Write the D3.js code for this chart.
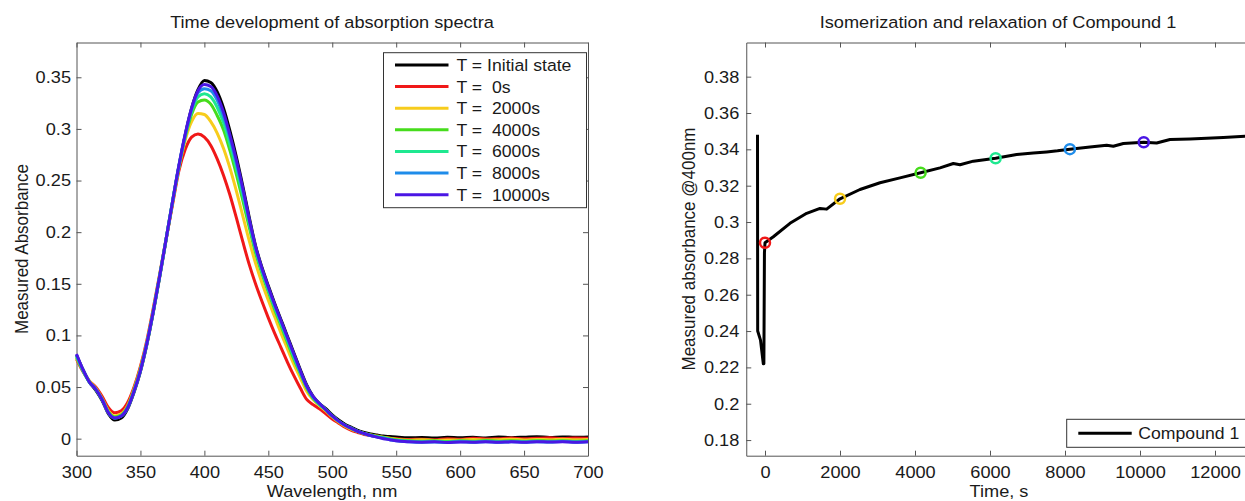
<!DOCTYPE html>
<html>
<head>
<meta charset="utf-8">
<script src="https://cdn.jsdelivr.net/npm/d3@7"></script>
<style>
  body { margin: 0; background: #fff; }
  svg { display: block; font-family: "Liberation Sans", Arial, sans-serif; }
  .tick text { fill: #1a1a1a; }
  .domain, .tick line { stroke: #555; }
</style>
</head>
<body>
<div id="chart"></div>
<script>
// ---------- data: left panel (spectra) ----------
const wavelengths = [300,305,310,315,320,325,330,335,340,345,350,355,360,365,370,375,380,385,390,395,
  400,405,410,415,420,425,430,435,440,445,450,455,460,465,470,475,480,485,490,495,
  500,505,510,515,520,525,530,535,540,545,550,
  560,570,580,590,600,610,620,630,640,650,660,670,680,690,700];

const absInitial = [.081,.067,.055,.047,.037,.024,.018,.020,.029,.045,
  .065,.091,.122,.156,.192,.228,.263,.294,.320,.338,
  .347,.345,.336,.320,.298,.273,.245,.215,.187,.166,
  .148,.131,.115,.099,.083,.067,.052,.041,.034,.029,
  .023,.018,.014,.011,.008,.006,.0045,.0035,.0025,.002,
  .0015,
  .0008,.0012,.0006,.0014,.0009,.0013,.0007,.0016,.001,.0014,.0019,.0011,.0017,.0013,.0016];
const abs0s = [.077,.065,.056,.050,.041,.030,.025,.027,.035,.050,
  .070,.095,.126,.159,.193,.226,.259,.280,.292,.295,
  .292,.284,.271,.255,.236,.214,.191,.169,.150,.133,
  .117,.102,.088,.074,.061,.049,.038,.033,.029,.024,
  .019,.015,.011,.008,.006,.004,.003,.002,.001,.0005,
  0,
  -.0008,-.0005,-.001,0,-.0006,.0005,-.0004,0,.0006,-.0002,.0004,.0008,.0002,.0006,.0004];
const abs2000s = [.078,.066,.056,.049,.039,.027,.022,.024,.032,.048,
  .068,.093,.124,.158,.193,.228,.262,.289,.307,.315,
  .314,.307,.296,.281,.262,.240,.216,.192,.170,.151,
  .134,.118,.102,.087,.072,.059,.046,.038,.032,.027,
  .021,.016,.012,.009,.007,.005,.0035,.0025,.0015,.0005,
  -.0005,
  -.0015,-.001,-.0018,-.0012,-.0015,-.0008,-.0014,-.001,-.0006,-.0012,-.0008,-.001,-.0005,-.001,-.0008];
const abs4000s = [.079,.066,.055,.048,.038,.026,.021,.023,.031,.047,
  .067,.092,.123,.157,.193,.229,.263,.292,.314,.326,
  .328,.324,.313,.299,.279,.256,.231,.205,.180,.160,
  .142,.125,.109,.093,.077,.063,.049,.039,.033,.028,
  .022,.017,.013,.010,.007,.005,.0035,.002,.001,0,
  -.001,
  -.002,-.0025,-.002,-.0028,-.002,-.0025,-.0018,-.0024,-.002,-.0026,-.0019,-.0023,-.002,-.0025,-.0021];
const abs6000s = [.080,.066,.055,.048,.038,.025,.020,.022,.030,.046,
  .066,.092,.123,.157,.193,.229,.263,.293,.317,.331,
  .334,.331,.321,.306,.285,.262,.236,.209,.183,.162,
  .144,.127,.111,.095,.079,.064,.050,.040,.033,.028,
  .022,.017,.013,.010,.007,.005,.003,.002,.001,-.0005,
  -.0015,
  -.0025,-.003,-.0028,-.0032,-.0026,-.003,-.0024,-.0031,-.0027,-.003,-.0025,-.0029,-.0024,-.003,-.0026];
const abs8000s = [.081,.067,.055,.048,.038,.025,.020,.022,.030,.046,
  .066,.092,.123,.157,.193,.229,.264,.294,.319,.335,
  .339,.337,.328,.312,.291,.267,.240,.212,.185,.164,
  .146,.129,.113,.097,.081,.065,.051,.040,.034,.028,
  .022,.017,.013,.010,.007,.005,.003,.0015,.0005,-.001,
  -.002,
  -.003,-.0035,-.0032,-.0036,-.003,-.0034,-.0029,-.0035,-.0031,-.0034,-.003,-.0033,-.0028,-.0034,-.003];
const abs10000s = [.082,.067,.055,.048,.038,.025,.020,.022,.030,.046,
  .066,.092,.123,.157,.193,.229,.264,.295,.320,.337,
  .343,.341,.332,.316,.294,.270,.243,.213,.186,.165,
  .147,.130,.114,.098,.082,.066,.051,.041,.034,.028,
  .022,.017,.013,.010,.007,.005,.003,.0015,0,-.001,
  -.002,
  -.003,-.0034,-.0031,-.0036,-.0032,-.0035,-.003,-.0034,-.0031,-.0035,-.0029,-.0033,-.003,-.0035,-.0031];

const spectraLabels = ["T = Initial state", "T =  0s", "T =  2000s", "T =  4000s", "T =  6000s", "T =  8000s", "T =  10000s"];
const spectraColors = ["#000000", "#f01818", "#f7cc1c", "#46dc1c", "#1ee890", "#1e8cea", "#4a16e4"];
const spectra = [absInitial, abs0s, abs2000s, abs4000s, abs6000s, abs8000s, abs10000s];

const leftXTicks = [300, 350, 400, 450, 500, 550, 600, 650, 700];
const leftYTicks = [0, 0.05, 0.1, 0.15, 0.2, 0.25, 0.3, 0.35];

// ---------- data: right panel (kinetics at 400 nm) ----------
const compoundTime = [-200, -195, -120, -45, -30, -15, 0, 222, 666, 1111, 1467, 1644, 2000, 2533, 3067, 3600,
  4150, 4667, 5022, 5200, 5556, 6150, 6711, 7155, 7511, 7800, 8130, 8667, 9111, 9289, 9556,
  10100, 10444, 10800, 11333, 11778, 12222, 12800, 13000];
const compoundAbs = [0.348, 0.240, 0.235, 0.222, 0.222, 0.283, 0.2886, 0.2919, 0.2993, 0.3048, 0.3075, 0.3071, 0.3128, 0.3179, 0.3216, 0.3243,
  0.3271, 0.3298, 0.3322, 0.3315, 0.3335, 0.3351, 0.3372, 0.3380, 0.3386, 0.3392, 0.3401, 0.3413, 0.3423, 0.3417, 0.3432,
  0.3439, 0.3435, 0.3454, 0.3457, 0.3461, 0.3465, 0.3472, 0.3474];
const markerTimes = [0, 2000, 4150, 6150, 8130, 10100];
const markerAbs = [0.2886, 0.3128, 0.3271, 0.3351, 0.3401, 0.3439];
const markerColors = spectraColors.slice(1);

const rightXTicks = [0, 2000, 4000, 6000, 8000, 10000, 12000];
const rightYTicks = [0.18, 0.2, 0.22, 0.24, 0.26, 0.28, 0.3, 0.32, 0.34, 0.36, 0.38];

// ---------- layout ----------
const width = 1245, height = 501;
const fontSize = 17;
const textStretch = 1.07; // reference text is slightly wide
const axTop = 42.5, axBottom = 455.7;

const svg = d3.select("#chart").append("svg")
  .attr("width", width)
  .attr("height", height);

const stretchText = (sel) => {
  sel.each(function () {
    const t = d3.select(this);
    const x = +t.attr("x") || 0;
    t.attr("transform", `translate(${x},0) scale(${textStretch},1) translate(${-x},0)`);
  });
};

//draw a MATLAB style box with inward ticks on all four sides
const drawFrame = (xScale, yScale, xTicks, yTicks, yPad) => {
  const [x0, x1] = xScale.range();
  const g = svg.append("g");
  const bottom = g.append("g")
    .attr("transform", `translate(0,${axBottom})`)
    .call(d3.axisBottom(xScale).tickValues(xTicks).tickSizeInner(-5).tickSizeOuter(0).tickPadding(10).tickFormat(d => String(d)));
  const top = g.append("g")
    .attr("transform", `translate(0,${axTop})`)
    .call(d3.axisTop(xScale).tickValues(xTicks).tickSizeInner(-5).tickSizeOuter(0).tickFormat(""));
  const left = g.append("g")
    .attr("transform", `translate(${x0},0)`)
    .call(d3.axisLeft(yScale).tickValues(yTicks).tickSizeInner(-5).tickSizeOuter(0).tickPadding(yPad).tickFormat(d => String(d)));
  const right = g.append("g")
    .attr("transform", `translate(${x1},0)`)
    .call(d3.axisRight(yScale).tickValues(yTicks).tickSizeInner(-5).tickSizeOuter(0).tickFormat(""));
  g.selectAll(".tick text").attr("font-size", fontSize).attr("font-family", null);
  g.selectAll(".tick line, .domain").attr("stroke", "#555").attr("stroke-width", 1);
  stretchText(bottom.selectAll(".tick text"));
  stretchText(left.selectAll(".tick text"));
  return g;
};

const addTitle = (text, x) => {
  svg.append("text")
    .text(text)
    .attr("x", x).attr("y", 28.5)
    .attr("text-anchor", "middle")
    .attr("font-size", fontSize)
    .attr("fill", "#1a1a1a")
    .call(stretchText);
};
const addXLabel = (text, x) => {
  svg.append("text")
    .text(text)
    .attr("x", x).attr("y", 497.5)
    .attr("text-anchor", "middle")
    .attr("font-size", fontSize)
    .attr("fill", "#1a1a1a")
    .call(stretchText);
};
const addYLabel = (text, x, y) => {
  svg.append("text")
    .text(text)
    .attr("text-anchor", "middle")
    .attr("font-size", fontSize)
    .attr("fill", "#1a1a1a")
    .attr("transform", `translate(${x},${y}) scale(${textStretch},1) rotate(-90)`);
};

// ---------- left panel ----------
const xLeft = d3.scaleLinear().domain([300, 700]).range([76.5, 588]);
const yLeft = d3.scaleLinear().domain([-0.0165, 0.3837]).range([axBottom, axTop]);

drawFrame(xLeft, yLeft, leftXTicks, leftYTicks, 5.5);

const spectrumLine = d3.line()
  .x((d, i) => xLeft(wavelengths[i]))
  .y(d => yLeft(d))
  .curve(d3.curveMonotoneX);

svg.append("g")
  .selectAll("path")
  .data(spectra)
  .join("path")
    .attr("d", d => spectrumLine(d))
    .attr("fill", "none")
    .attr("stroke", (d, i) => spectraColors[i])
    .attr("stroke-width", 3)
    .attr("stroke-linejoin", "round");

addTitle("Time development of absorption spectra", 332);
addXLabel("Wavelength, nm", 332);
addYLabel("Measured Absorbance", 27.5, 249);

//legend of the left panel
const legLeft = svg.append("g");
legLeft.append("rect")
  .attr("x", 383.5).attr("y", 52.7)
  .attr("width", 203).attr("height", 155)
  .attr("fill", "#fff").attr("stroke", "#333").attr("stroke-width", 1);
const legRow = d3.scaleLinear().domain([0, 6]).range([65, 194.7]);
legLeft.selectAll("line")
  .data(spectraLabels)
  .join("line")
    .attr("x1", 395).attr("x2", 448.5)
    .attr("y1", (d, i) => legRow(i)).attr("y2", (d, i) => legRow(i))
    .attr("stroke", (d, i) => spectraColors[i])
    .attr("stroke-width", 3);
legLeft.selectAll("text")
  .data(spectraLabels)
  .join("text")
    .text(d => d)
    .attr("x", 456.5)
    .attr("y", (d, i) => legRow(i) + 6)
    .attr("font-size", 16.5)
    .attr("fill", "#1a1a1a")
    .style("white-space", "pre")
    .call(stretchText);

// ---------- right panel ----------
const xRight = d3.scaleLinear().domain([-500, 13000]).range([746.25, 1252.5]);
const yRight = d3.scaleLinear().domain([0.1714, 0.3988]).range([axBottom, axTop]);

drawFrame(xRight, yRight, rightXTicks, rightYTicks, 7);

const kineticLine = d3.line()
  .x((d, i) => xRight(compoundTime[i]))
  .y(d => yRight(d));

svg.append("path")
  .attr("d", kineticLine(compoundAbs))
  .attr("fill", "none")
  .attr("stroke", "#000")
  .attr("stroke-width", 3)
  .attr("stroke-linejoin", "round");

svg.append("g")
  .selectAll("circle")
  .data(markerAbs)
  .join("circle")
    .attr("cx", (d, i) => xRight(markerTimes[i]))
    .attr("cy", d => yRight(d))
    .attr("r", 5)
    .attr("fill", "none")
    .attr("stroke", (d, i) => markerColors[i])
    .attr("stroke-width", 2.5);

addTitle("Isomerization and relaxation of Compound 1", 998);
addXLabel("Time, s", 999);
addYLabel("Measured absorbance @400nm", 695, 249);

//legend of the right panel (runs past the picture edge)
const legRight = svg.append("g");
legRight.append("rect")
  .attr("x", 1066.7).attr("y", 419.3)
  .attr("width", 190).attr("height", 28)
  .attr("fill", "#fff").attr("stroke", "#333").attr("stroke-width", 1);
legRight.append("line")
  .attr("x1", 1078.3).attr("x2", 1131.7)
  .attr("y1", 433.3).attr("y2", 433.3)
  .attr("stroke", "#000").attr("stroke-width", 3);
legRight.append("text")
  .text("Compound 1")
  .attr("x", 1138.3).attr("y", 439.3)
  .attr("font-size", 16.5)
  .attr("fill", "#1a1a1a")
  .call(stretchText);
</script>
</body>
</html>
